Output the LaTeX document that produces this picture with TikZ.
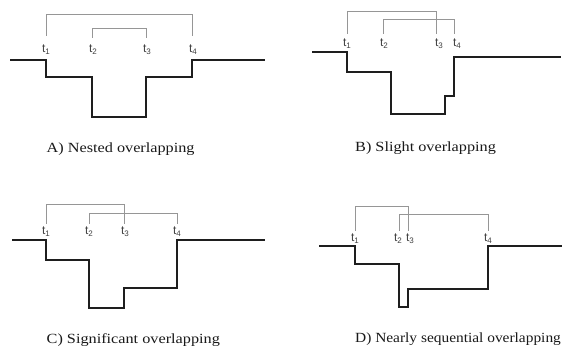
\documentclass[tikz,border=0pt]{standalone}
\usepackage{fontspec}
\setmainfont{Liberation Serif}
\newfontfamily\capfont[FakeStretch=1.16]{Liberation Serif}
\newfontfamily\capfontnarrow[FakeStretch=1.10]{Liberation Serif}
\newfontfamily\lblfont{Liberation Sans}
\definecolor{brk}{RGB}{150,150,150}
\definecolor{wave}{RGB}{30,30,30}
\tikzset{
  wv/.style={draw=wave, line width=1.8pt, line join=miter},
  br/.style={draw=brk, line width=0.9pt},
  tl/.style={font=\lblfont\fontsize{12}{12}\selectfont, text=black!75, inner sep=0pt, anchor=base},
  captxt/.style={font=\capfont\fontsize{14}{16}\selectfont, anchor=base west, inner sep=0pt, text=black!90}
}
\newcommand{\tlab}[1]{t\raisebox{-0.3ex}{\fontsize{8}{8}\selectfont #1}}
\begin{document}
\begin{tikzpicture}[x=1pt,y=-1pt]
\useasboundingbox[fill=white] (0,0) rectangle (564,352);
% ---------- A ----------
\draw[wv] (10,60) -- (46,60) -- (46,77) -- (92,77) -- (92,117) -- (146,117) -- (146,77) -- (192,77) -- (192,60) -- (265,60);
\node[tl] (a1) at (46,53) {\tlab{1}};
\node[tl] (a2) at (93,53) {\tlab{2}};
\node[tl] (a3) at (147,53) {\tlab{3}};
\node[tl] (a4) at (193,53) {\tlab{4}};
\draw[br] (46,36) -- (46,14.5) -- (192,14.5) -- (192,36);
\draw[br] (92,38) -- (92,28.5) -- (146,28.5) -- (146,38);
\node[captxt] (ca) at (46.5,153) {A) Nested overlapping};
% ---------- B ----------
\draw[wv] (312,52) -- (347,52) -- (347,72) -- (391,72) -- (391,114) -- (445,114) -- (445,96) -- (454,96) -- (454,57) -- (561,57);
\node[tl] (b1) at (347,47) {\tlab{1}};
\node[tl] (b2) at (384,47) {\tlab{2}};
\node[tl] (b3) at (439,47) {\tlab{3}};
\node[tl] (b4) at (457,47) {\tlab{4}};
\draw[br] (347,34) -- (347,11) -- (436,11) -- (436,34);
\draw[br] (383,34) -- (383,19) -- (454,19) -- (454,34);
\node[captxt] (cb) at (355,151.5) {B) Slight overlapping};
% ---------- C ----------
\draw[wv] (12,240) -- (46,240) -- (46,260) -- (89,260) -- (89,308) -- (124,308) -- (124,288) -- (177,288) -- (177,240) -- (265,240);
\node[tl] (c1) at (46,235) {\tlab{1}};
\node[tl] (c2) at (89,235) {\tlab{2}};
\node[tl] (c3) at (125,235) {\tlab{3}};
\node[tl] (c4) at (177,235) {\tlab{4}};
\draw[br] (46,224) -- (46,204) -- (124,204) -- (124,224);
\draw[br] (89,224) -- (89,213) -- (177,213) -- (177,224);
\node[captxt] (cc) at (46.5,343) {C) Significant overlapping};
% ---------- D ----------
\draw[wv] (319,246) -- (355,246) -- (355,264) -- (399,264) -- (399,307) -- (408,307) -- (408,289) -- (488,289) -- (488,246) -- (562,246);
\node[tl] (d1) at (355,242) {\tlab{1}};
\node[tl] (d2) at (398,242) {\tlab{2}};
\node[tl] (d3) at (410,242) {\tlab{3}};
\node[tl] (d4) at (488,242) {\tlab{4}};
\draw[br] (355,231) -- (355,206) -- (408,206) -- (408,231);
\draw[br] (399,231) -- (399,214) -- (488,214) -- (488,231);
\node[captxt, font=\capfontnarrow\fontsize{14}{16}\selectfont] (cd) at (355,342) {D) Nearly sequential overlapping};
\end{tikzpicture}
\end{document}
